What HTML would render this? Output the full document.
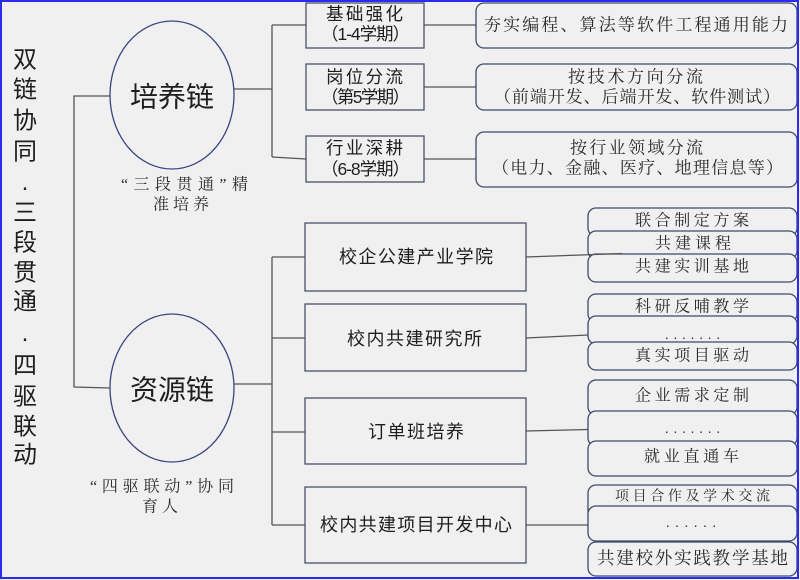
<!DOCTYPE html>
<html>
<head>
<meta charset="utf-8">
<style>
html,body{margin:0;padding:0;background:#f0f0f0;}
svg{display:block;}
.sans{font-family:"Liberation Sans","Noto Sans CJK SC",sans-serif;fill:#1e1e1e;}
.kai{font-family:"Liberation Serif","Noto Serif CJK SC","Noto Sans CJK SC",serif;fill:#2a2a2a;}
</style>
</head>
<body>
<svg width="800" height="580" viewBox="0 0 800 580" xmlns="http://www.w3.org/2000/svg">
<rect x="0" y="0" width="800" height="580" fill="#f0f0f0"/>

<!-- connectors -->
<g stroke="#555" stroke-width="1.3" fill="none">
  <polyline points="110,96 74,96 74,387 110,388"/>
  <line x1="234" y1="89" x2="272" y2="89"/>
  <line x1="272" y1="25" x2="272" y2="157"/>
  <line x1="272" y1="25" x2="306" y2="25"/>
  <line x1="272" y1="157" x2="306" y2="159"/>
  <line x1="424" y1="25" x2="476" y2="25"/>
  <line x1="424" y1="87" x2="476" y2="87"/>
  <line x1="424" y1="159" x2="476" y2="159"/>
  <line x1="234" y1="384" x2="272" y2="384"/>
  <line x1="272" y1="257" x2="272" y2="525"/>
  <line x1="272" y1="257" x2="305" y2="257"/>
  <line x1="272" y1="338" x2="305" y2="338"/>
  <line x1="272" y1="432" x2="305" y2="432"/>
  <line x1="272" y1="525" x2="305" y2="525"/>
  <line x1="526" y1="431" x2="588" y2="429.5"/>
  <line x1="526" y1="525" x2="588" y2="525"/>
</g>

<!-- ellipses -->
<g stroke="#3a4580" stroke-width="1.3" fill="none">
  <ellipse cx="172" cy="95" rx="62" ry="74"/>
  <ellipse cx="172" cy="388" rx="62" ry="74"/>
</g>
<text class="sans" x="130" y="97" font-size="28" dominant-baseline="central" textLength="84" lengthAdjust="spacing">培养链</text>
<text class="sans" x="130" y="390" font-size="28" dominant-baseline="central" textLength="84" lengthAdjust="spacing">资源链</text>

<!-- captions -->
<text class="kai" x="121" y="185" font-size="16" dominant-baseline="central" textLength="127" lengthAdjust="spacing">“三段贯通”精</text>
<text class="kai" x="153" y="205" font-size="16" dominant-baseline="central" textLength="56" lengthAdjust="spacing">准培养</text>
<text class="kai" x="90" y="487" font-size="16" dominant-baseline="central" textLength="144" lengthAdjust="spacing">“四驱联动”协同</text>
<text class="kai" x="142" y="507" font-size="16" dominant-baseline="central" textLength="36" lengthAdjust="spacing">育人</text>

<!-- vertical title -->
<g class="sans" font-size="24" text-anchor="middle" dominant-baseline="central">
  <text x="25" y="60">双</text>
  <text x="25" y="90">链</text>
  <text x="25" y="121">协</text>
  <text x="25" y="152">同</text>
  <text x="25" y="188">·</text>
  <text x="25" y="213">三</text>
  <text x="25" y="243">段</text>
  <text x="25" y="273">贯</text>
  <text x="25" y="302">通</text>
  <text x="25" y="339">·</text>
  <text x="25" y="366">四</text>
  <text x="25" y="397">驱</text>
  <text x="25" y="427">联</text>
  <text x="25" y="455">动</text>
</g>

<!-- top stage boxes -->
<g stroke="#4a5068" stroke-width="1.3" fill="#f0f0f0">
  <rect x="306" y="3" width="118" height="45"/>
  <rect x="306" y="64" width="118" height="46"/>
  <rect x="306" y="136" width="118" height="46"/>
</g>
<g class="sans" font-size="17.5" dominant-baseline="central">
  <text x="326" y="14" textLength="77" lengthAdjust="spacing">基础强化</text>
  <text x="321" y="34" textLength="89" lengthAdjust="spacing">（1-4学期）</text>
  <text x="326" y="77" textLength="77" lengthAdjust="spacing">岗位分流</text>
  <text x="321" y="97" textLength="89" lengthAdjust="spacing">（第5学期）</text>
  <text x="326" y="148" textLength="77" lengthAdjust="spacing">行业深耕</text>
  <text x="321" y="169" textLength="89" lengthAdjust="spacing">（6-8学期）</text>
</g>

<!-- top right rounded boxes -->
<g stroke="#3d4a6e" stroke-width="1.3" fill="#f0f0f0">
  <rect x="476" y="3" width="321" height="45" rx="8"/>
  <rect x="476" y="64" width="321" height="46" rx="8"/>
  <rect x="476" y="132" width="321" height="55" rx="8"/>
</g>
<g class="kai" font-size="17" dominant-baseline="central">
  <text x="484" y="25" textLength="304" lengthAdjust="spacing">夯实编程、算法等软件工程通用能力</text>
  <text x="568" y="77" textLength="135" lengthAdjust="spacing">按技术方向分流</text>
  <text x="494" y="97" textLength="286" lengthAdjust="spacing">（前端开发、后端开发、软件测试）</text>
  <text x="570" y="148" textLength="133" lengthAdjust="spacing">按行业领域分流</text>
  <text x="492" y="168" textLength="291" lengthAdjust="spacing">（电力、金融、医疗、地理信息等）</text>
</g>

<!-- middle boxes -->
<g stroke="#4a5068" stroke-width="1.3" fill="#f0f0f0">
  <rect x="305" y="223" width="221" height="68"/>
  <rect x="305" y="304" width="221" height="67"/>
  <rect x="305" y="398" width="221" height="66"/>
  <rect x="305" y="487" width="221" height="76"/>
</g>
<g class="sans" font-size="18" dominant-baseline="central">
  <text x="339" y="257" textLength="154" lengthAdjust="spacing">校企公建产业学院</text>
  <text x="347" y="339" textLength="135" lengthAdjust="spacing">校内共建研究所</text>
  <text x="368" y="432" textLength="96" lengthAdjust="spacing">订单班培养</text>
  <text x="320" y="525" textLength="192" lengthAdjust="spacing">校内共建项目开发中心</text>
</g>

<!-- right stacked boxes -->
<g stroke="#3d4a6e" stroke-width="1.3" fill="#f0f0f0">
  <rect x="588" y="208" width="209" height="28" rx="8"/>
  <rect x="588" y="231" width="209" height="28" rx="8"/>
  <rect x="588" y="254" width="209" height="28" rx="8"/>

  <rect x="588" y="294" width="209" height="28" rx="8"/>
  <rect x="588" y="316" width="209" height="28" rx="8"/>
  <rect x="588" y="342" width="209" height="28" rx="8"/>

  <rect x="588" y="380" width="209" height="35" rx="8"/>
  <rect x="588" y="411" width="209" height="35" rx="8"/>
  <rect x="588" y="441" width="209" height="35" rx="8"/>

  <rect x="588" y="485" width="209" height="34" rx="8"/>
  <rect x="588" y="506" width="209" height="35" rx="8"/>
  <rect x="588" y="542" width="209" height="34" rx="8"/>
</g>
<g stroke="#555" stroke-width="1.3" fill="none">
  <line x1="526" y1="257" x2="622" y2="253.5"/>
  <line x1="526" y1="338" x2="588" y2="335"/>
</g>
<g class="kai" font-size="16" dominant-baseline="central">
  <text x="635" y="221" textLength="114" lengthAdjust="spacing">联合制定方案</text>
  <text x="655" y="244" textLength="76" lengthAdjust="spacing">共建课程</text>
  <text x="635" y="267" textLength="114" lengthAdjust="spacing">共建实训基地</text>

  <text x="635" y="307" textLength="114" lengthAdjust="spacing">科研反哺教学</text>
  <text x="635" y="356" textLength="114" lengthAdjust="spacing">真实项目驱动</text>

  <text x="635" y="396" textLength="114" lengthAdjust="spacing">企业需求定制</text>
  <text x="644" y="457" textLength="95" lengthAdjust="spacing">就业直通车</text>

  <text x="615" y="497" font-size="14" textLength="155" lengthAdjust="spacing">项目合作及学术交流</text>
  <text x="597" y="558" font-size="17.5" textLength="191" lengthAdjust="spacing">共建校外实践教学基地</text>
</g>
<g class="kai" font-size="14">
  <text x="665" y="339" textLength="55" lengthAdjust="spacing">.......</text>
  <text x="665" y="433" textLength="55" lengthAdjust="spacing">.......</text>
  <text x="666" y="527" textLength="50" lengthAdjust="spacing">......</text>
</g>

<!-- outer blue border -->
<rect x="1" y="1" width="797" height="577" fill="none" stroke="#2b2bf0" stroke-width="2"/>
</svg>
</body>
</html>
